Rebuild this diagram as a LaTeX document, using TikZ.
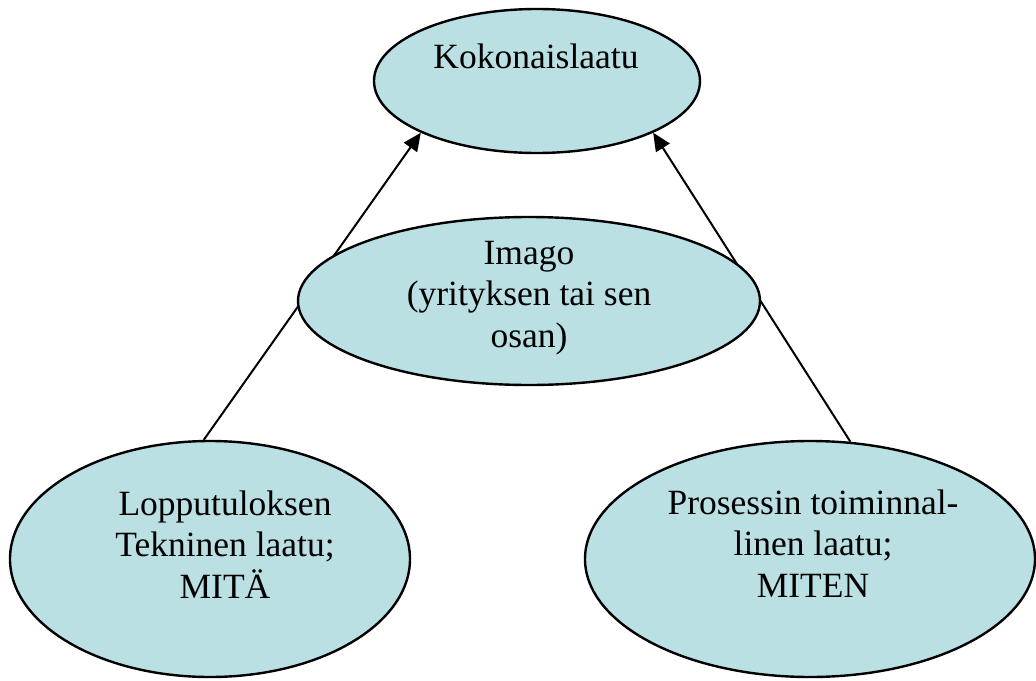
\documentclass[tikz,border=0pt]{standalone}
\usepackage{fontspec}
\setmainfont{Liberation Serif}
\usetikzlibrary{arrows.meta,shapes.geometric}
\definecolor{ovalfill}{RGB}{186,224,228}
\tikzset{
  oval/.style={ellipse, draw=black, line width=2.4pt, fill=ovalfill, inner sep=0pt},
  lbl/.style={align=center, inner sep=0pt, font=\fontsize{35.5}{41.3}\selectfont, anchor=base},
  conn/.style={line width=2pt, -{Triangle[length=18pt,width=16pt]}}
}
\begin{document}
\begin{tikzpicture}[x=1pt,y=-1pt]
\useasboundingbox (0,0) rectangle (1036,680);
\node[oval, minimum width=326pt, minimum height=144pt] (top) at (537,81) {};
\node[oval, minimum width=400pt, minimum height=236pt] (bl) at (210,559) {};
\node[oval, minimum width=450pt, minimum height=236pt] (br) at (810,559) {};
\draw[conn] (bl.93) -- (top.204);
\draw[conn] (br.71) -- (top.336);
\node[oval, minimum width=462pt, minimum height=168pt] (mid) at (529,301) {};
\node[lbl] (ttop) at (536,68) {Kokonaislaatu};
\node[lbl] (tmid) at (529,347) {Imago\\(yrityksen tai sen\\osan)};
\node[lbl] (tbl) at (225,598) {Lopputuloksen\\Tekninen laatu;\\MITÄ};
\node[lbl] (tbr) at (813,597) {Prosessin toiminnal-\\linen laatu;\\MITEN};
\end{tikzpicture}
\end{document}
